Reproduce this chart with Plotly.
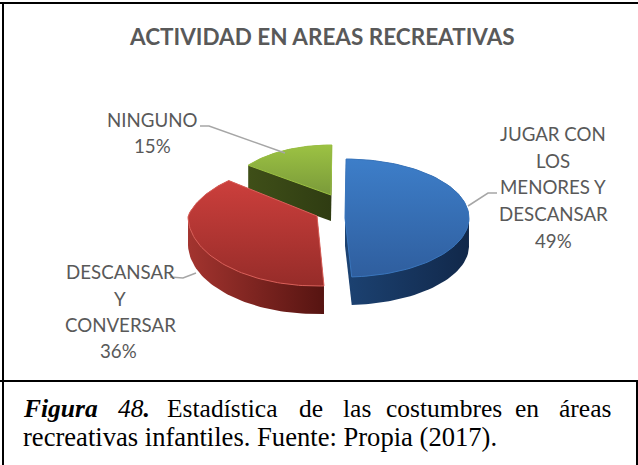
import math
import plotly.graph_objects as go

# Data
categories = ["JUGAR CON LOS MENORES Y DESCANSAR", "DESCANSAR Y CONVERSAR", "NINGUNO"]
values = [49, 36, 15]
label_lines = [["JUGAR CON", "LOS", "MENORES Y", "DESCANSAR"], ["DESCANSAR", "Y", "CONVERSAR"], ["NINGUNO"]]
title_text = "ACTIVIDAD EN AREAS RECREATIVAS"
caption_line1 = ["Figura", "48", "Estadística", "de", "las", "costumbres", "en", "áreas"]
caption_line2 = "recreativas infantiles. Fuente: Propia (2017)."

# Layout geometry (pixel canvas)
W, H = 638, 465
START = 0.5
centers = [(345, 218), (317, 216), (331, 195)]
radii = [(124, 59), (129, 70), (103, 50)]
tapers = [0, 0.25, 0]
depths = [28, 28, 26]
top_cols = [("#2f5e9e", "#3d7ec9"), ("#962c29", "#cc3f3c"), ("#7a9a3a", "#9cc243")]
side_cols = [("#1c4272", "#11284a"), ("#a3342f", "#561411"), ("#3f4f18", "#2f3c12")]
rim_cols = ["#3a76bd", "#d9605a", "#9cc243"]
label_pos = [(553, 134), (120, 272), (152, 120)]
pct_pos = [(553, 241), (118, 351), (152, 146)]
LINE_GAP = 26.5
leaders = [
    ([468, 488, 497], [206, 193, 193]),
    ([170, 183, 196], [277, 278, 273]),
    ([200, 209, 285], [126, 126, 153]),
]


def wedge(i, a0, a1):
    cx, cy = centers[i]
    rx, ry = radii[i]
    n = 80
    pts = [(cx, cy)]
    for k in range(n + 1):
        t = math.radians(a0 + (a1 - a0) * k / n)
        s = 1 - tapers[i] * max(0, math.cos(t))
        pts.append((cx + rx * s * math.sin(t), cy - ry * s * math.cos(t)))
    return pts


def hull(points):
    p = sorted(set(points))
    def cross(o, a, b):
        return (a[0]-o[0])*(b[1]-o[1]) - (a[1]-o[1])*(b[0]-o[0])
    lo, up = [], []
    for q in p:
        while len(lo) > 1 and cross(lo[-2], lo[-1], q) <= 0:
            lo.pop()
        lo.append(q)
    for q in reversed(p):
        while len(up) > 1 and cross(up[-2], up[-1], q) <= 0:
            up.pop()
        up.append(q)
    return lo[:-1] + up[:-1]


fig = go.Figure()
angle = START
spans = []
total = sum(values)
for v in values:
    spans.append((angle, angle + 360 * v / total))
    angle += 360 * v / total

for i in [2, 1, 0]:
    a0, a1 = spans[i]
    top = wedge(i, a0, a1)
    low = [(x, y + depths[i]) for x, y in top]
    sil = hull(top + low)
    fig.add_trace(go.Scatter(
        x=[p[0] for p in sil] + [sil[0][0]], y=[p[1] for p in sil] + [sil[0][1]],
        mode="lines", line=dict(width=0), fill="toself",
        fillgradient=dict(type="horizontal", colorscale=[[0, side_cols[i][0]], [1, side_cols[i][1]]]),
        hoverinfo="skip", showlegend=False))
    fig.add_trace(go.Scatter(
        x=[p[0] for p in top] + [top[0][0]], y=[p[1] for p in top] + [top[0][1]],
        mode="lines", line=dict(width=1, color=rim_cols[i]), fill="toself",
        fillgradient=dict(type="vertical", colorscale=[[0, top_cols[i][0]], [1, top_cols[i][1]]]),
        name=categories[i], showlegend=False))

for lx, ly in leaders:
    fig.add_trace(go.Scatter(x=lx, y=ly, mode="lines", line=dict(color="#a6a6a6", width=1.5),
                             hoverinfo="skip", showlegend=False))

ann = []
def txt(x, y, s, size, color="#595959", family="Lato", anchor="center"):
    ann.append(dict(x=x, y=y, xref="x", yref="y", text=s, showarrow=False, xanchor=anchor, yanchor="middle",
                    font=dict(size=size, color=color, family=family)))

txt(322, 36, "<b>" + title_text + "</b>", 22.5)
for i, lines in enumerate(label_lines):
    for j, line in enumerate(lines):
        txt(label_pos[i][0], label_pos[i][1] + j * LINE_GAP, line, 18.7)
    txt(pct_pos[i][0], pct_pos[i][1], f"{values[i]}%", 18.7)

serif = "Liberation Serif"
cap_x = [21, 116, 165, 297, 341, 384, 513, 557]
styles = ["<b><i>%s</i></b>", "<i>%s</i><b><i>.</i></b>"] + ["%s"] * 6
for w, x, st in zip(caption_line1, cap_x, styles):
    txt(x, 408, st % w, 25.5, "#000000", serif, "left")
txt(21, 437, caption_line2, 26.6, "#000000", serif, "left")

black = dict(color="#000000", width=2)
shapes = [
    dict(type="line", x0=0, x1=W, y0=3, y1=3, line=black),
    dict(type="line", x0=3, x1=3, y0=3, y1=H, line=black),
    dict(type="line", x0=0, x1=W, y0=381, y1=381, line=black),
    dict(type="line", x0=637, x1=637, y0=381, y1=H, line=black),
]

fig.update_layout(
    width=W, height=H, margin=dict(l=0, r=0, t=0, b=0),
    paper_bgcolor="white", plot_bgcolor="white",
    xaxis=dict(range=[0, W], visible=False, fixedrange=True),
    yaxis=dict(range=[H, 0], visible=False, fixedrange=True),
    annotations=ann, shapes=shapes, showlegend=False,
)
fig.write_html("out.html", post_script="document.body.style.margin='0';document.body.style.overflow='hidden';",
               config={"displayModeBar": False})
